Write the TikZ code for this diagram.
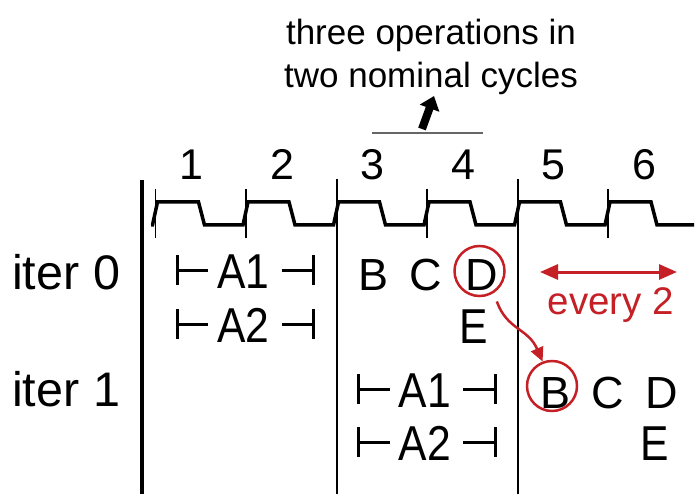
\documentclass[tikz,border=0pt]{standalone}
\usepackage{fontspec}
\setmainfont{Liberation Sans}
\newfontfamily\tallfont[FakeStretch=0.87]{Liberation Sans}
\usetikzlibrary{arrows.meta}
\definecolor{myred}{RGB}{196,32,38}
\newcommand\myspan[1]{%
  \draw[bar] ([xshift=-40pt,yshift=3pt]#1.base west) -- ++(0,-30);
  \draw[bar] ([xshift=-40pt,yshift=18pt]#1.base west) -- ([xshift=-9pt,yshift=18pt]#1.base west);
  \draw[bar] ([xshift=12pt,yshift=18pt]#1.base east) -- ([xshift=44pt,yshift=18pt]#1.base east);
  \draw[bar] ([xshift=44pt,yshift=3pt]#1.base east) -- ++(0,-30);
}
\begin{document}
\begin{tikzpicture}[x=1pt,y=-1pt,
  lbl/.style={inner sep=0pt, anchor=base, font=\fontsize{45}{45}\selectfont},
  tall/.style={inner sep=0pt, anchor=base, font=\tallfont\fontsize{49}{49}\selectfont},
  num/.style={inner sep=0pt, anchor=base, font=\fontsize{43}{43}\selectfont},
  iterl/.style={inner sep=0pt, anchor=base west, font=\fontsize{48.5}{48.5}\selectfont},
  toptext/.style={inner sep=0pt, anchor=base, font=\fontsize{35}{35}\selectfont},
  bar/.style={line width=3pt},
  wave/.style={line width=3.5pt, line join=miter},
  tickline/.style={line width=1.8pt},
  sepline/.style={line width=2pt},
  ring/.style={draw=myred, line width=2.5pt, circle, minimum size=50pt, inner sep=0pt},
  redarrow/.style={draw=myred, line width=2.5pt, -{Triangle[length=14pt,width=13pt]}},
]
\useasboundingbox (0,0) rectangle (698,494);

% top annotation
\node[toptext] (t1) at (431,45) {three operations in};
\node[toptext] (t2) at (431,88) {two nominal cycles};
\coordinate (arT) at (422,129);
\coordinate (arH) at (434,96);
\draw[line width=8pt, -{Triangle[length=13pt,width=20pt]}] (arT) -- (arH);
\coordinate (ulA) at (372,133);
\coordinate (ulB) at (483,133);
\draw[gray!80!black, line width=1.5pt] (ulA) -- (ulB);

% cycle numbers
\foreach \t/\n in {155.5/1,246/2,336.5/3,427/4,517.5/5,608/6}{
  \node[num] (n\n) at (\t+36,180) {\n};
}

% clock waveform
\draw[wave] (151,225) -- (152.5,225) -- (157.5,202) -- (198.5,202) -- (204.5,225)
  -- (243,225) -- (248,202) -- (289,202) -- (295,225)
  -- (333.5,225) -- (338.5,202) -- (379.5,202) -- (385.5,225)
  -- (424,225) -- (429,202) -- (470,202) -- (476,225)
  -- (514.5,225) -- (519.5,202) -- (560.5,202) -- (566.5,225)
  -- (605,225) -- (610,202) -- (651,202) -- (657,225) -- (694,225);
\foreach \t in {155.5,246,427,608}{
  \draw[tickline] (\t,189) -- (\t,238);
}
\draw[line width=4pt] (141.5,180) -- (141.5,494);
\draw[sepline] (336.5,179) -- (336.5,494);
\draw[sepline] (517.5,179) -- (517.5,494);

% row labels
\node[iterl] (it0) at (12,289) {iter 0};
\node[iterl] (it1) at (12,406) {iter 1};

% iter 0
\node[tall] (a1) at (243.5,288) {A1};
\node[tall] (a2) at (243.5,342) {A2};
\myspan{a1}
\myspan{a2}
\node[lbl] (b0) at (374,290) {B};
\node[lbl] (c0) at (426,290) {C};
\node[lbl] (d0) at (482,290) {D};
\node[tall] (e0) at (473.5,343) {E};

% iter 1
\node[tall] (a1b) at (425,407) {A1};
\node[tall] (a2b) at (425,460) {A2};
\myspan{a1b}
\myspan{a2b}
\node[lbl] (b1) at (555,408) {B};
\node[lbl] (c1) at (608,408) {C};
\node[lbl] (d1) at (662,408) {D};
\node[tall] (e1) at (655,460) {E};

% red annotations
\node[ring] (Dc) at (479.5,271) {};
\node[ring] (Bc) at (552,386) {};
\draw[redarrow, shorten <=9pt] (Dc.-57) .. controls (507,330) and (528,328) .. (Bc.111);
\coordinate (ev1) at (540,272);
\coordinate (ev2) at (677,272);
\draw[draw=myred, line width=3pt, {Triangle[length=18pt,width=15pt,fill=myred]}-{Triangle[length=18pt,width=15pt,fill=myred]}] (ev1) -- (ev2);
\node[inner sep=0pt, anchor=base, text=myred, font=\fontsize{38.5}{38.5}\selectfont] (ev) at (611,314) {every 2};
\end{tikzpicture}
\end{document}
